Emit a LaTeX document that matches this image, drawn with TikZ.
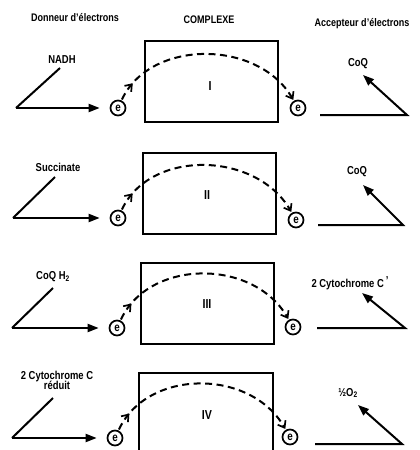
\documentclass[tikz,border=0pt]{standalone}
\usepackage{fontspec}
\setmainfont{Liberation Sans}[FakeStretch=0.82]
\usetikzlibrary{arrows.meta,decorations.markings}
\begin{document}
\begin{tikzpicture}[x=1pt,y=-1pt,
  lab/.style={font=\bfseries\fontsize{11.5}{12}\selectfont, inner sep=0pt, align=center},
  head/.style={font=\bfseries\fontsize{11}{12}\selectfont, inner sep=0pt},
  num/.style={font=\bfseries\fontsize{13}{14}\selectfont, inner sep=0pt},
  elec/.style={circle, draw, line width=1.7pt, inner sep=0pt, minimum size=15pt, font=\bfseries\fontsize{12}{12}\selectfont},
  cplx/.style={draw, line width=2pt},
  solid line/.style={line width=2pt},
  arr/.style={line width=2pt, -{Triangle[length=11pt,width=8pt]}, line join=miter},
  dsh/.style={line width=2pt, dash pattern=on 7pt off 4.5pt,
    -{Straight Barb[length=6pt,width=9pt,line width=1.7pt]},
    postaction={decorate},
    decoration={markings, mark=at position 0.1 with {\arrow{Straight Barb[length=6pt,width=9pt,line width=1.7pt]}}}}
]
\useasboundingbox (0,0) rectangle (420,450);

% headers
\node[head] (h1) at (75,18) {Donneur d'électrons};
\node[head] (h2) at (209,20) {COMPLEXE};
\node[head] (h3) at (362,24) {Accepteur d'électrons};

% ---------- Row 1 ----------
\node[lab] (d1) at (62,60) {NADH};
\coordinate (lt1) at (60,68);
\coordinate (lv1) at (16,108);
\node[elec] (eL1) at (118,108) {e};
\node[cplx, minimum width=133pt, minimum height=81pt, anchor=north west] (c1) at (144,40) {};
\node[num] (n1) at (210,86) {I};
\node[elec] (eR1) at (298,108) {e};
\coordinate (rs1) at (320,115);
\coordinate (rv1) at (407,115);
\coordinate (ra1) at (363,75);
\node[lab] (a1) at (358,64) {CoQ};
\draw[solid line] (lt1) -- (lv1);
\draw[arr, shorten >=10pt] (lv1) -- (eL1);
\draw[arr] (rs1) -- (rv1) -- (ra1);
\draw[dsh, shorten <=1pt, shorten >=1pt] (eL1) .. controls +(32,-69) and +(-40,-69) .. (eR1);

% ---------- Row 2 ----------
\node[lab] (d2) at (58,167) {Succinate};
\coordinate (lt2) at (55,177);
\coordinate (lv2) at (13,218);
\node[elec] (eL2) at (118,218) {e};
\node[cplx, minimum width=133pt, minimum height=81pt, anchor=north west] (c2) at (142,152) {};
\node[num] (n2) at (207,195) {II};
\node[elec] (eR2) at (296,220) {e};
\coordinate (rs2) at (318,225);
\coordinate (rv2) at (403,225);
\coordinate (ra2) at (363,185);
\node[lab] (a2) at (357,172) {CoQ};
\draw[solid line] (lt2) -- (lv2);
\draw[arr, shorten >=10pt] (lv2) -- (eL2);
\draw[arr] (rs2) -- (rv2) -- (ra2);
\draw[dsh, shorten <=1pt, shorten >=1pt] (eL2) .. controls +(32,-69) and +(-40,-69) .. (eR2);

% ---------- Row 3 ----------
\node[lab] (d3) at (53,277) {CoQ H\textsubscript{2}};
\coordinate (lt3) at (53,288);
\coordinate (lv3) at (12,328);
\node[elec] (eL3) at (117,328) {e};
\node[cplx, minimum width=133pt, minimum height=81pt, anchor=north west] (c3) at (140,262) {};
\node[num] (n3) at (207,304) {III};
\node[elec] (eR3) at (293,327) {e};
\coordinate (rs3) at (317,328);
\coordinate (rv3) at (405,328);
\coordinate (ra3) at (362,293);
\node[lab] (a3) at (350,283) {2 Cytochrome C\,\raisebox{3pt}{'}};
\draw[solid line] (lt3) -- (lv3);
\draw[arr, shorten >=10pt] (lv3) -- (eL3);
\draw[arr] (rs3) -- (rv3) -- (ra3);
\draw[dsh, shorten <=1pt, shorten >=1pt] (eL3) .. controls +(32,-69) and +(-40,-69) .. (eR3);

% ---------- Row 4 ----------
\node[lab] (d4) at (57,380) {2 Cytochrome C\\[-2pt]réduit};
\coordinate (lt4) at (53,398);
\coordinate (lv4) at (12,438);
\node[elec] (eL4) at (115,438) {e};
\node[cplx, minimum width=134pt, minimum height=90pt, anchor=north west] (c4) at (138,372) {};
\node[num] (n4) at (207,415) {IV};
\node[elec] (eR4) at (290,437) {e};
\coordinate (rs4) at (315,444);
\coordinate (rv4) at (402,444);
\coordinate (ra4) at (358,405);
\node[lab] (a4) at (348,393) {½O\textsubscript{2}};
\draw[solid line] (lt4) -- (lv4);
\draw[arr, shorten >=10pt] (lv4) -- (eL4);
\draw[arr] (rs4) -- (rv4) -- (ra4);
\draw[dsh, shorten <=1pt, shorten >=1pt] (eL4) .. controls +(32,-69) and +(-40,-69) .. (eR4);
\end{tikzpicture}
\end{document}
